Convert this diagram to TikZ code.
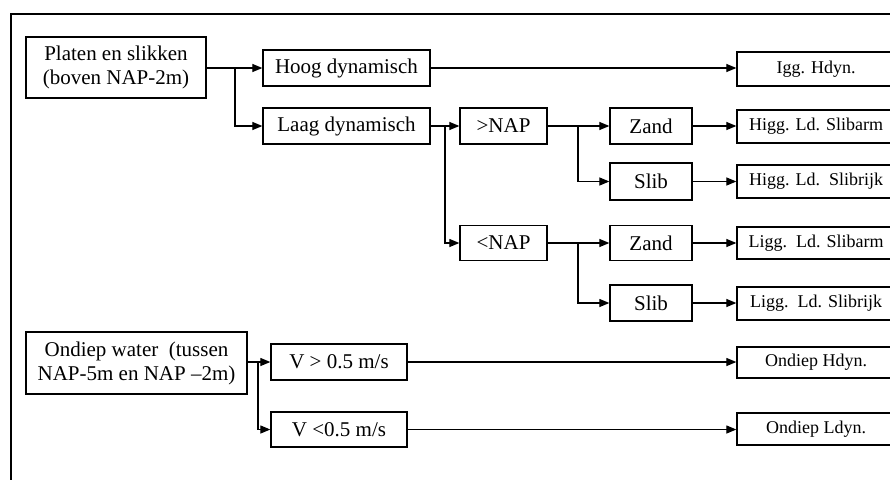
\documentclass[tikz,border=0pt]{standalone}
\usepackage{fontspec}
\setmainfont{Liberation Serif}
\usetikzlibrary{arrows.meta}
\tikzset{
  box/.style={draw, line width=1.3pt, inner sep=0pt, align=center, font=\fontsize{21}{24}\selectfont},
  rbox/.style={draw, line width=1.3pt, inner sep=0pt, align=center, minimum width=158pt, font=\fontsize{18}{21}\selectfont},
  arr/.style={line width=1.2pt, -{Triangle[length=10pt,width=8pt]}},
  frame/.style={line width=1.6pt}
}
\begin{document}
\begin{tikzpicture}[x=1pt,y=-1pt]
\useasboundingbox (0,0) rectangle (890,479);
\fill[white] (0,0) rectangle (890,479);
% outer frame (extends beyond the picture)
\coordinate (ftl) at (11,14);
\coordinate (ftr) at (900,14);
\coordinate (fbl) at (11,490);
\draw[frame] (ftr) -- (ftl) -- (fbl);

% left column
\node[box, minimum width=180pt, minimum height=61pt] (platen) at (116,67.5) {Platen en slikken\\(boven NAP-2m)};
\node[box, minimum width=221pt, minimum height=62pt] (ondiep) at (136.5,363) {Ondiep water\ \ (tussen\\NAP-5m en NAP –2m)};

% second column
\node[box, minimum width=167pt, minimum height=36pt] (hoog) at (346.5,68) {Hoog dynamisch};
\node[box, minimum width=167pt, minimum height=36pt] (laag) at (346.5,126) {Laag dynamisch};
\node[box, minimum width=136pt, minimum height=36pt] (v1) at (339,362) {V > 0.5 m/s};
\node[box, minimum width=136pt, minimum height=35pt] (v2) at (339,429.5) {V <0.5 m/s};

% third column
\node[box, minimum width=87pt, minimum height=36pt] (gtnap) at (503.5,126) {>NAP};
\node[box, minimum width=87pt, minimum height=35pt] (ltnap) at (503.5,243) {<NAP};

% fourth column
\node[box, minimum width=82pt, minimum height=36pt] (zand1) at (651,126) {Zand};
\node[box, minimum width=82pt, minimum height=37pt] (slib1) at (651,181.5) {Slib};
\node[box, minimum width=82pt, minimum height=35pt] (zand2) at (651,243) {Zand};
\node[box, minimum width=82pt, minimum height=36pt] (slib2) at (651,303) {Slib};

% right column
\node[rbox, minimum height=34pt] (r1) at (816,69) {Igg. Hdyn.};
\node[rbox, minimum height=33pt] (r2) at (816,126.5) {Higg. Ld. Slibarm};
\node[rbox, minimum height=33pt] (r3) at (816,181.5) {Higg. Ld.\ \ Slibrijk};
\node[rbox, minimum height=32pt] (r4) at (816,243) {Ligg.\ \ Ld. Slibarm};
\node[rbox, minimum height=33pt] (r5) at (816,303.5) {Ligg.\ \ Ld. Slibrijk};
\node[rbox, minimum height=31pt] (r6) at (816,362.5) {Ondiep Hdyn.};
\node[rbox, minimum height=32pt] (r7) at (816,429) {Ondiep Ldyn.};

% branch points
\coordinate (b1) at (235,68);
\coordinate (b2) at (445,126);
\coordinate (b3) at (578,126);
\coordinate (b4) at (578,243);
\coordinate (b5) at (258,362);

% connectors
\draw[arr] (platen.east |- b1) -- (hoog.west);
\draw[arr] (b1) |- (laag.west);
\draw[arr] (laag.east) -- (gtnap.west);
\draw[arr] (b2) |- (ltnap.west);
\draw[arr] (gtnap.east) -- (zand1.west);
\draw[arr] (b3) |- (slib1.west);
\draw[arr] (ltnap.east) -- (zand2.west);
\draw[arr] (b4) |- (slib2.west);
\draw[arr] (hoog.east) -- (hoog.east -| r1.west);
\draw[arr] (zand1.east) -- (zand1.east -| r2.west);
\draw[arr] (slib1.east) -- (r3.west);
\draw[arr] (zand2.east) -- (r4.west);
\draw[arr] (slib2.east) -- (slib2.east -| r5.west);
\draw[arr] (ondiep.east |- b5) -- (v1.west);
\draw[arr] (b5) |- (v2.west);
\draw[arr] (v1.east) -- (v1.east -| r6.west);
\draw[arr] (v2.east) -- (v2.east -| r7.west);
\end{tikzpicture}
\end{document}
